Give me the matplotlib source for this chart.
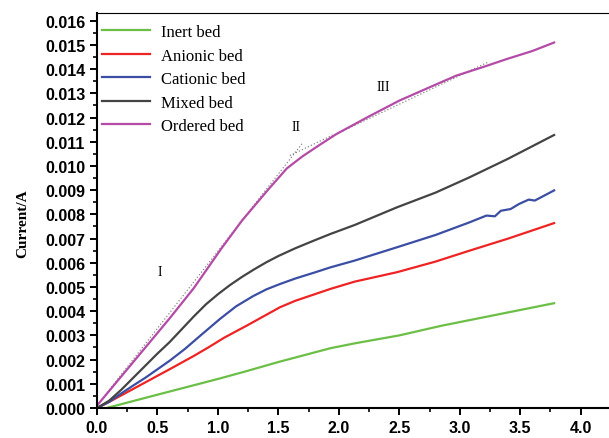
import matplotlib
matplotlib.use('Agg')
import matplotlib.pyplot as plt
from matplotlib.ticker import MultipleLocator, FormatStrFormatter

# (current in mA, converted below)
x_ordered = [0, 0.2, 0.4, 0.6, 0.8, 1.03, 1.2, 1.42, 1.57, 1.7, 1.85, 1.98, 2.25, 2.5, 2.75, 2.97, 3.2, 3.39, 3.6, 3.78]
y_ordered = [0.1, 1.3, 2.5, 3.7, 4.95, 6.6, 7.75, 9.05, 9.9, 10.4, 10.9, 11.32, 12.05, 12.7, 13.25, 13.73, 14.1, 14.42, 14.75, 15.1]

x_mixed = [0, 0.1, 0.2, 0.3, 0.4, 0.5, 0.6, 0.7, 0.8, 0.9, 1.0, 1.1, 1.2, 1.3, 1.4, 1.5, 1.64, 1.8, 1.93, 2.13, 2.48, 2.8, 3.08, 3.4, 3.78]
y_mixed = [0, 0.3, 0.75, 1.25, 1.75, 2.25, 2.72, 3.25, 3.78, 4.28, 4.7, 5.08, 5.42, 5.73, 6.02, 6.28, 6.6, 6.93, 7.19, 7.56, 8.29, 8.9, 9.53, 10.3, 11.28]

x_cationic = [0, 0.1, 0.2, 0.3, 0.4, 0.5, 0.6, 0.727, 0.85, 1.017, 1.15, 1.29, 1.4, 1.512, 1.64, 1.8, 1.93, 2.13, 2.48, 2.8, 3.08, 3.22, 3.29, 3.34, 3.42, 3.49, 3.57, 3.62, 3.70, 3.78]
y_cationic = [0, 0.25, 0.6, 0.93, 1.25, 1.6, 1.95, 2.44, 2.97, 3.68, 4.2, 4.62, 4.9, 5.12, 5.35, 5.6, 5.81, 6.09, 6.64, 7.15, 7.67, 7.95, 7.92, 8.15, 8.22, 8.43, 8.61, 8.57, 8.78, 8.99]

x_anionic = [0, 0.1, 0.2, 0.4, 0.6, 0.8, 0.92, 1.05, 1.237, 1.4, 1.512, 1.64, 1.8, 1.93, 2.13, 2.48, 2.8, 3.08, 3.4, 3.78]
y_anionic = [0, 0.25, 0.52, 1.06, 1.6, 2.15, 2.5, 2.9, 3.40, 3.85, 4.16, 4.43, 4.7, 4.92, 5.22, 5.61, 6.05, 6.50, 7.0, 7.64]

x_inert = [0.08, 0.5, 1.0, 1.22, 1.5, 1.93, 2.13, 2.5, 2.85, 3.2, 3.5, 3.78]
y_inert = [0, 0.55, 1.2, 1.50, 1.9, 2.47, 2.67, 3.0, 3.40, 3.75, 4.05, 4.33]

# dotted tangent lines (x pairs, y pairs in mA)
tangent_x = [[0, 1.705], [1.595, 1.95], [1.98, 3.23]]
tangent_y = [[0.1, 10.98], [10.43, 11.28], [11.32, 14.28]]

# region labels
region_text = ['I', 'II', 'III']
region_x = [0.52, 1.645, 2.37]
region_y = [5.66, 11.65, 13.3]

series = [
    ('Inert bed', x_inert, y_inert, '#6cbf46'),
    ('Anionic bed', x_anionic, y_anionic, '#ee2424'),
    ('Cationic bed', x_cationic, y_cationic, '#3b4ea3'),
    ('Mixed bed', x_mixed, y_mixed, '#444444'),
    ('Ordered bed', x_ordered, y_ordered, '#b44ba6'),
]

fig = plt.figure(figsize=(6.09, 4.39), dpi=100)
ax = fig.add_axes([97/609, 30/439, 520/609, 395/439])

for tx, ty in zip(tangent_x, tangent_y):
    ax.plot(tx, [v/1000 for v in ty], color='#888888', linestyle=':', linewidth=0.9)

for label, xs, ys, c in series:
    ax.plot(xs, [v/1000 for v in ys], color=c, linewidth=1.6, label=label)

for t, tx, ty in zip(region_text, region_x, region_y):
    ax.text(tx, ty/1000, t, family='Liberation Serif', fontsize=10, ha='center', va='center')

ax.set_xlim(0, 4.3)
ax.set_ylim(0, 0.01632)
ax.xaxis.set_major_locator(MultipleLocator(0.5))
ax.xaxis.set_minor_locator(MultipleLocator(0.25))
ax.yaxis.set_major_locator(MultipleLocator(0.001))
ax.yaxis.set_minor_locator(MultipleLocator(0.0005))
ax.xaxis.set_major_formatter(FormatStrFormatter('%.1f'))
ax.yaxis.set_major_formatter(FormatStrFormatter('%.3f'))
ax.tick_params(which='major', direction='out', length=5, width=1.4, labelsize=11.5)
ax.tick_params(which='minor', direction='out', length=3, width=1.2)
for lab in ax.get_xticklabels() + ax.get_yticklabels():
    lab.set_family('Liberation Sans')
    lab.set_fontweight('bold')
for s in ax.spines.values():
    s.set_linewidth(1.5)
ax.spines['top'].set_linewidth(0.8)

ax.set_ylabel('Current/A', family='Liberation Serif', fontweight='bold', fontsize=11)
ax.yaxis.set_label_coords(-0.131, 0.47)

leg = ax.legend(loc='upper left', bbox_to_anchor=(0, 0.984), frameon=False,
                prop={'family': 'Liberation Serif', 'size': 12},
                handlelength=2.9, labelspacing=0.45, borderaxespad=0, borderpad=0.3,
                handletextpad=0.66)

fig.savefig('out.png', dpi=100)
